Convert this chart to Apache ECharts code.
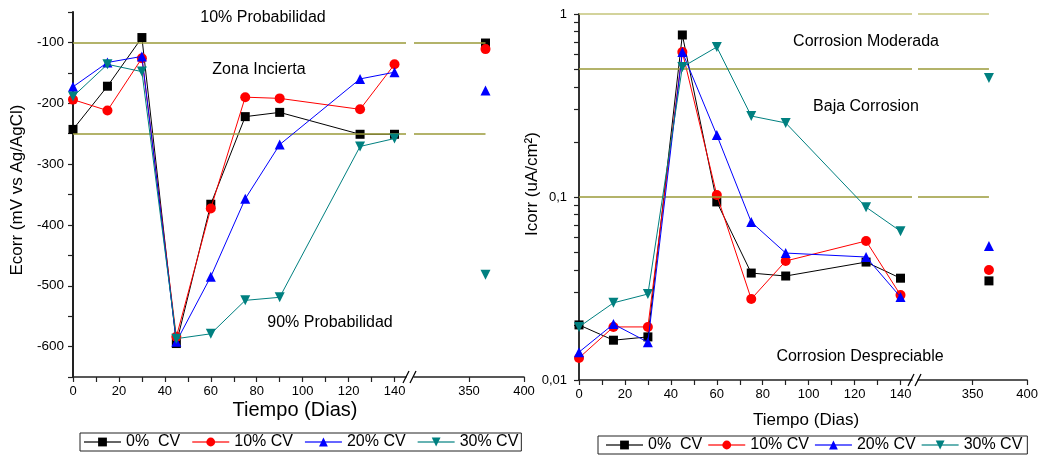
<!DOCTYPE html>
<html><head><meta charset="utf-8">
<script src="https://cdn.jsdelivr.net/npm/echarts@6/dist/echarts.min.js"></script>
<style>html,body{margin:0;padding:0;background:#fff}#c{width:1041px;height:456px}</style>
</head><body><div id="c"></div>
<script>
// ---------- data ----------
const days = [0, 15, 30, 45, 60, 75, 90, 125, 140];
const lateDay = 365;
const seriesNames = ['0%  CV', '10% CV', '20% CV', '30% CV'];

const ecorr0  = [-243, -172, -92, -595, -366, -222, -215, -251, -251];
const ecorr10 = [-194, -212, -126, -584, -373, -190, -192, -210, -136];
const ecorr20 = [-173, -133, -123, -592, -485, -357, -268, -160, -149];
const ecorr30 = [-189, -136, -148, -587, -579, -524, -519, -271, -258];
const ecorrLate = [-101, -111, -179, -482];

const icorr0  = [0.0200, 0.0165, 0.0172, 0.768, 0.094, 0.0384, 0.0370, 0.0441, 0.0360];
const icorr10 = [0.0132, 0.0195, 0.0195, 0.620, 0.1026, 0.0277, 0.0447, 0.0575, 0.0291];
const icorr20 = [0.0142, 0.0202, 0.0161, 0.620, 0.218, 0.073, 0.0494, 0.0470, 0.0284];
const icorr30 = [0.0195, 0.0264, 0.0295, 0.513, 0.660, 0.277, 0.254, 0.088, 0.065];
const icorrLate = [0.0348, 0.0399, 0.054, 0.447];

const ecorrRefLines = [-100, -250];
const icorrRefLines = [1, 0.5, 0.1];
const refLineStart = 300;
const refLineEnd = 365;

const xTicksA  = [0, 10, 20, 30, 40, 50, 60, 70, 80, 90, 100, 110, 120, 130, 140];
const xLabelsA = [0, 20, 40, 60, 80, 100, 120, 140];
const xTicksB  = [350, 400];
const ecorrTicks  = [-650, -600, -550, -500, -450, -400, -350, -300, -250, -200, -150, -100, -50];
const ecorrLabels = [-600, -500, -400, -300, -200, -100];
const icorrTicks  = [0.01, 0.02, 0.03, 0.04, 0.05, 0.06, 0.07, 0.08, 0.09,
                     0.1, 0.2, 0.3, 0.4, 0.5, 0.6, 0.7, 0.8, 0.9, 1];
const icorrLabels = [0.01, 0.1, 1];

const annotationsLeft  = ['10% Probabilidad', 'Zona Incierta', '90% Probabilidad'];
const annotationsRight = ['Corrosion Moderada', 'Baja Corrosion', 'Corrosion Despreciable'];

// ---------- styles ----------
const FONT = "'Liberation Sans', Arial, sans-serif";
const colors = ['#000000', '#ff0000', '#0000ff', '#008080'];
const symbols = ['rect', 'circle', 'triangle', 'path://M0,0L10,0L5,9Z'];
const sizes = [9, 10, 10, 10];
const refColor = '#9a9a38';
const refColorTop = '#c4c47a';

function xAxisA(grid) {
  return {
    type: 'value', gridIndex: grid, min: 0, max: 145, interval: 10,
    axisLine: { onZero: false, lineStyle: { color: '#222', width: 1.5 } },
    axisTick: { length: 5, customValues: xTicksA, lineStyle: { color: '#222', width: 1.2 } },
    axisLabel: { customValues: xLabelsA, margin: 8, color: '#000', fontSize: 13, fontFamily: FONT },
    splitLine: { show: false }
  };
}
function xAxisB(grid) {
  return {
    type: 'value', gridIndex: grid, min: 300, max: 400, interval: 50,
    axisLine: { onZero: false, lineStyle: { color: '#222', width: 1.5 } },
    axisTick: { length: 5, customValues: xTicksB, lineStyle: { color: '#222', width: 1.2 } },
    axisLabel: { customValues: xTicksB, margin: 8, color: '#000', fontSize: 13, fontFamily: FONT },
    splitLine: { show: false }
  };
}

const fmtComma = v => String(v).replace('.', ',');

const option = {
  animation: false,
  backgroundColor: '#fff',
  textStyle: { fontFamily: FONT },
  grid: [
    { left: 73, top: 12, width: 333, height: 365 },
    { left: 414, top: 12, width: 110, height: 365 },
    { left: 579, top: 14, width: 333, height: 366 },
    { left: 918, top: 14, width: 110, height: 366 }
  ],
  xAxis: [xAxisA(0), xAxisB(1), xAxisA(2), xAxisB(3)],
  yAxis: [
    { type: 'value', gridIndex: 0, min: -650, max: -50, interval: 50,
      axisLine: { show: true, lineStyle: { color: '#222', width: 2 } },
      axisTick: { length: 5, customValues: ecorrTicks, lineStyle: { color: '#222', width: 1.2 } },
      axisLabel: { customValues: ecorrLabels, margin: 9, color: '#000', fontSize: 13.5, fontFamily: FONT },
      splitLine: { show: false } },
    { type: 'value', gridIndex: 1, min: -650, max: -50, show: false, splitLine: { show: false } },
    { type: 'log', gridIndex: 2, min: 0.01, max: 1, logBase: 10,
      axisLine: { show: true, lineStyle: { color: '#333', width: 2 } },
      axisTick: { length: 5, customValues: icorrTicks, lineStyle: { color: '#222', width: 1.2 } },
      axisLabel: { customValues: icorrLabels, formatter: fmtComma, margin: 12, color: '#000', fontSize: 13, fontFamily: FONT },
      splitLine: { show: false } },
    { type: 'log', gridIndex: 3, min: 0.01, max: 1, logBase: 10, show: false, splitLine: { show: false } }
  ],
  legend: [
    { data: seriesNames, left: 80, top: 433, orient: 'horizontal',
      padding: [1, 3, 1, 3], itemGap: 11, itemWidth: 37, itemHeight: 11,
      borderColor: '#222', borderWidth: 1, backgroundColor: '#fff',
      textStyle: { fontSize: 16, color: '#000', fontFamily: FONT },
      lineStyle: { opacity: 0.6 } },
    { data: seriesNames, left: 598, top: 436, orient: 'horizontal',
      padding: [1, 5, 1, 7], itemGap: 5, itemWidth: 37, itemHeight: 11,
      borderColor: '#222', borderWidth: 1, backgroundColor: '#fff',
      textStyle: { fontSize: 16, color: '#000', fontFamily: FONT },
      lineStyle: { opacity: 0.6 } }
  ],
  series: [],
  graphic: []
};

const leftSets = [ecorr0, ecorr10, ecorr20, ecorr30];
const rightSets = [icorr0, icorr10, icorr20, icorr30];

const refLineStyle = { color: refColor, width: 1.5, type: 'solid' };
const refStyleFor = v => (v === 1 ? { color: refColorTop } : {});
function refMarkFull(values) {
  return { symbol: 'none', silent: true, label: { show: false }, lineStyle: refLineStyle,
           data: values.map(v => ({ yAxis: v, lineStyle: refStyleFor(v) })) };
}
function refMarkPart(values) {
  return { symbol: 'none', silent: true, label: { show: false }, lineStyle: refLineStyle,
           data: values.map(v => [{ coord: [refLineStart, v], lineStyle: refStyleFor(v) }, { coord: [refLineEnd, v] }]) };
}

seriesNames.forEach((name, i) => {
  const common = {
    name, type: 'line', symbol: symbols[i], symbolSize: sizes[i], showSymbol: true,
    lineStyle: { color: colors[i], width: 1 }, itemStyle: { color: colors[i] },
    z: 3 + i
  };
  const sL = Object.assign({}, common, { xAxisIndex: 0, yAxisIndex: 0,
    data: days.map((d, j) => [d, leftSets[i][j]]) });
  const sL2 = Object.assign({}, common, { xAxisIndex: 1, yAxisIndex: 1,
    data: [[lateDay, ecorrLate[i]]] });
  const sR = Object.assign({}, common, { xAxisIndex: 2, yAxisIndex: 2,
    data: days.map((d, j) => [d, rightSets[i][j]]) });
  const sR2 = Object.assign({}, common, { xAxisIndex: 3, yAxisIndex: 3,
    data: [[lateDay, icorrLate[i]]] });
  if (i === 0) {
    sL.markLine = refMarkFull(ecorrRefLines);
    sL2.markLine = refMarkPart(ecorrRefLines);
    sR.markLine = refMarkFull(icorrRefLines);
    sR2.markLine = refMarkPart(icorrRefLines);
  }
  option.series.push(sL, sL2, sR, sR2);
});

function txt(text, x, y, size, rot) {
  return { type: 'text', x, y, rotation: rot || 0, z: 10,
    style: { text, font: size + 'px ' + FONT, fill: '#000', align: 'center', verticalAlign: 'middle' } };
}
function slash(x, y) {
  return { type: 'line', z: 10, shape: { x1: x - 3, y1: y + 6, x2: x + 3, y2: y - 6 },
    style: { stroke: '#000', lineWidth: 1.3 } };
}
option.graphic = [
  txt('Ecorr (mV vs Ag/AgCl)', 17, 190, 17, Math.PI / 2),
  txt('Icorr (uA/cm\u00B2)', 532, 184, 17, Math.PI / 2),
  txt('Tiempo (Dias)', 295, 410, 20),
  txt('Tiempo (Dias)', 806, 420, 17),
  txt(annotationsLeft[0], 263, 18, 16),
  txt(annotationsLeft[1], 259, 70, 16),
  txt(annotationsLeft[2], 330, 323, 16),
  txt(annotationsRight[0], 866, 42, 16),
  txt(annotationsRight[1], 866, 107, 16),
  txt(annotationsRight[2], 860, 357, 16),
  slash(406, 377), slash(413, 377),
  slash(911, 380), slash(918, 380)
];

const chart = echarts.init(document.getElementById('c'), null, { renderer: 'canvas' });
chart.setOption(option);
</script>
</body></html>
